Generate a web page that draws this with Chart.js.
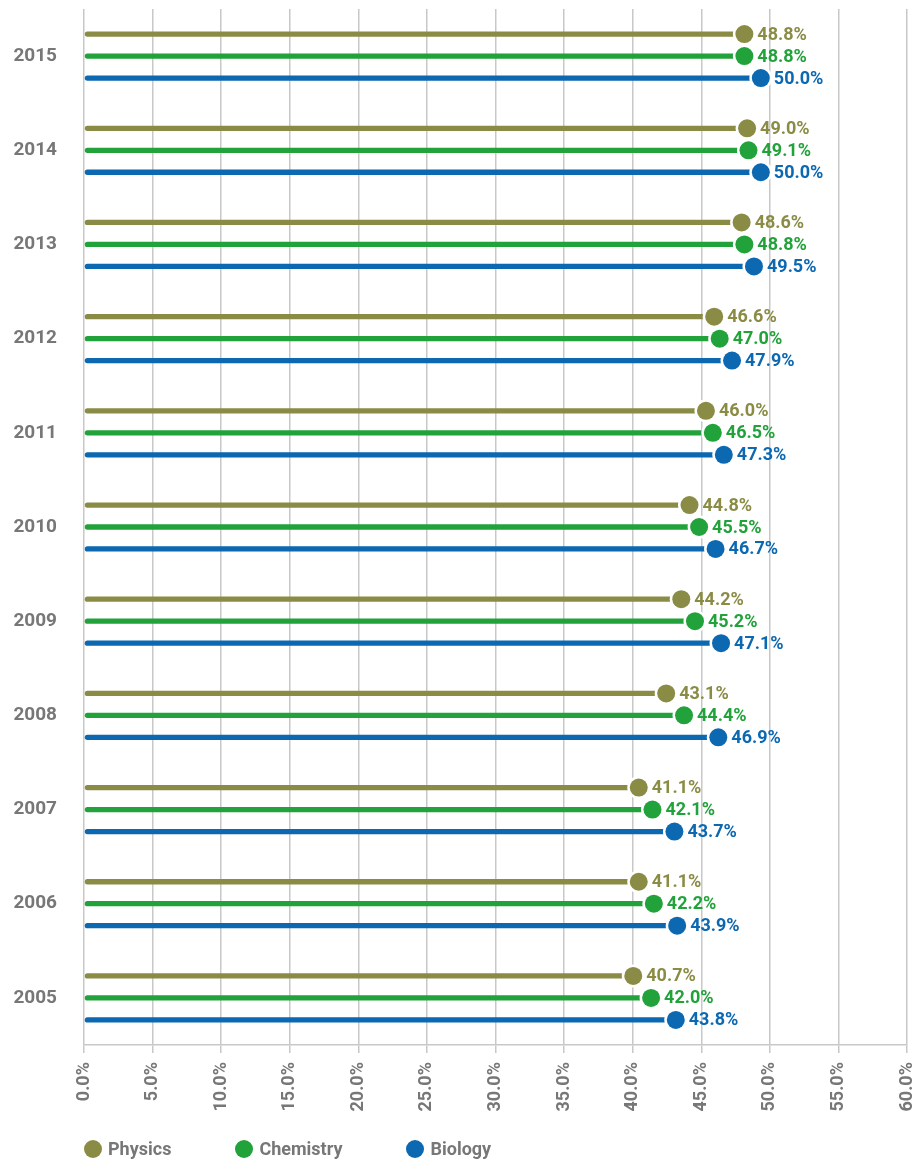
<!DOCTYPE html>
<html>
<head>
<meta charset="utf-8">
<script src="https://cdn.jsdelivr.net/npm/chart.js@4/dist/chart.umd.min.js"></script>
<style>
  body { margin: 0; background: #fff; overflow: hidden; }
  #wrap { position: relative; width: 924px; height: 1162px; }
  #legend {
    position: absolute; left: 84px; top: 1138px;
    display: flex; gap: 64px; align-items: center;
    font-family: Roboto, sans-serif;
    font-weight: bold; font-size: 18px; color: #777;
  }
  #legend .item { display: flex; align-items: center; }
  #legend .dot { width: 18px; height: 18px; border-radius: 50%; margin-right: 6px; }
</style>
</head>
<body>
<div id="wrap">
  <canvas id="grafico" width="924" height="1162"></canvas>
  <div id="legend"></div>
</div>
<script>
const anos = ['2015', '2014', '2013', '2012', '2011', '2010', '2009', '2008', '2007', '2006', '2005'];
const physics = [48.8, 49.0, 48.6, 46.6, 46.0, 44.8, 44.2, 43.1, 41.1, 41.1, 40.7];
const chemistry = [48.8, 49.1, 48.8, 47.0, 46.5, 45.5, 45.2, 44.4, 42.1, 42.2, 42.0];
const biology = [50.0, 50.0, 49.5, 47.9, 47.3, 46.7, 47.1, 46.9, 43.7, 43.9, 43.8];
const series = ['Physics', 'Chemistry', 'Biology'];
const cores = ['#8a8c45', '#22a23a', '#0b68b1'];

const fonte = 'Roboto, sans-serif';
const cinza = '#777';
const raio = 9;

// dots sit just inside the value, label right after
const pontos = {
    id: 'pontos',
    afterDatasetsDraw(chart) {
        const ctx = chart.ctx;
        ctx.save();
        chart.data.datasets.forEach(function (ds, i) {
            const meta = chart.getDatasetMeta(i);
            meta.data.forEach(function (bar, j) {
                const cx = bar.x - raio;
                ctx.beginPath();
                ctx.fillStyle = '#fff';
                ctx.arc(cx, bar.y, raio + 2.5, 0, Math.PI * 2);
                ctx.fill();
                ctx.beginPath();
                ctx.fillStyle = ds.backgroundColor;
                ctx.arc(cx, bar.y, raio, 0, Math.PI * 2);
                ctx.fill();
                ctx.font = 'bold 18px ' + fonte;
                ctx.textAlign = 'left';
                ctx.textBaseline = 'middle';
                ctx.fillText(ds.data[j].toFixed(1) + '%', bar.x + 4, bar.y + 1);
            });
        });
        ctx.restore();
    }
};

const valores = [physics, chemistry, biology];

new Chart(document.getElementById('grafico'), {
    type: 'bar',
    data: {
        labels: anos,
        datasets: series.map(function (nome, i) {
            return {
                label: nome,
                data: valores[i],
                backgroundColor: cores[i],
                borderRadius: 3,
                borderSkipped: false,
                categoryPercentage: 0.7,
                barPercentage: 0.24
            };
        })
    },
    options: {
        indexAxis: 'y',
        responsive: false,
        animation: false,
        layout: { padding: { top: 9, right: 17, left: 0, bottom: 0 } },
        plugins: {
            legend: { display: false },
            tooltip: { enabled: false }
        },
        scales: {
            x: {
                min: 0,
                max: 60,
                ticks: {
                    stepSize: 5,
                    minRotation: 90,
                    maxRotation: 90,
                    padding: 9,
                    color: cinza,
                    font: { family: fonte, size: 18, weight: 'bold' },
                    callback: v => v.toFixed(1) + '%'
                },
                grid: { color: '#c8c8c8', lineWidth: 1.5, tickLength: 8 },
                border: { color: '#c8c8c8', width: 1.5 },
                afterFit: s => {
                    s.height = 117;
                    s.paddingLeft = 0;
                    s.paddingRight = 0;
                }
            },
            y: {
                grid: { display: false, drawTicks: false },
                border: { display: false },
                ticks: {
                    padding: 27,
                    color: cinza,
                    font: { family: fonte, size: 19, weight: 'bold' }
                },
                afterFit: s => {
                    s.width = 84;
                    s.paddingTop = 0;
                    s.paddingBottom = 0;
                }
            }
        }
    },
    plugins: [pontos]
});

const legenda = document.getElementById('legend');
series.forEach(function (nome, i) {
    const item = document.createElement('div');
    item.className = 'item';
    const dot = document.createElement('span');
    dot.className = 'dot';
    dot.style.background = cores[i];
    const txt = document.createElement('span');
    txt.textContent = nome;
    item.appendChild(dot);
    item.appendChild(txt);
    legenda.appendChild(item);
});
</script>
</body>
</html>
